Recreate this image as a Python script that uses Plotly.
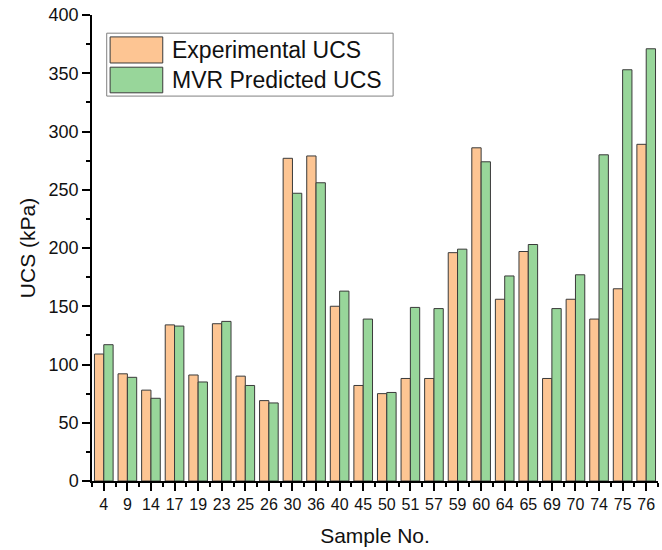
import plotly.graph_objects as go

samples = ["4", "9", "14", "17", "19", "23", "25", "26", "30", "36", "40", "45",
           "50", "51", "57", "59", "60", "64", "65", "69", "70", "74", "75", "76"]
experimental = [109, 92, 78, 134, 91, 135, 90, 69, 277, 279, 150, 82,
                75, 88, 88, 196, 286, 156, 197, 88, 156, 139, 165, 289]
predicted = [117, 89, 71, 133, 85, 137, 82, 67, 247, 256, 163, 139,
             76, 149, 148, 199, 274, 176, 203, 148, 177, 280, 353, 371]
series_names = ["Experimental UCS", "MVR Predicted UCS"]
series_colors = ["#FDC593", "#98D69A"]
y_ticks = [0, 50, 100, 150, 200, 250, 300, 350, 400]

FONT = "Arial, Liberation Sans, sans-serif"
positions = list(range(len(samples)))
xrange_ = [-0.5, len(samples) - 0.5]

fig = go.Figure()
for name, vals, col in zip(series_names, [experimental, predicted], series_colors):
    fig.add_trace(go.Bar(
        x=positions, y=vals, name=name, showlegend=False,
        marker=dict(color=col, line=dict(color="#3a3a3a", width=1)),
    ))

axis_common = dict(showline=True, linecolor="black", linewidth=1.5,
                   showgrid=False, zeroline=False, tickcolor="black", tickwidth=1.5)

fig.update_layout(
    width=662, height=550,
    margin=dict(l=92, r=4, t=15, b=69),
    paper_bgcolor="white", plot_bgcolor="white",
    barmode="group", bargap=0.21, bargroupgap=0,
    font=dict(family=FONT, color="black"),
    xaxis=dict(
        range=xrange_, tickmode="array", tickvals=positions, ticktext=samples,
        ticks="outside", ticklen=8,
        tickfont=dict(size=16, family=FONT, color="#111"),
        minor=dict(tickmode="linear", tick0=-0.5, dtick=1, ticks="outside",
                   ticklen=4, tickwidth=1.5, tickcolor="black"),
        title=dict(text="Sample No.", font=dict(size=21, family=FONT, color="#111"), standoff=16),
        **axis_common,
    ),
    xaxis2=dict(
        overlaying="x", side="top", anchor="y", range=xrange_,
        tickmode="array", tickvals=positions, showticklabels=False,
        ticks="inside", ticklen=8,
        minor=dict(tickmode="linear", tick0=-0.5, dtick=1, ticks="inside",
                   ticklen=4, tickwidth=1.5, tickcolor="black"),
        **axis_common,
    ),
    yaxis=dict(
        range=[0, 400], tickmode="array", tickvals=y_ticks,
        ticks="outside", ticklen=8,
        tickfont=dict(size=18, family=FONT, color="#111"),
        minor=dict(tickmode="linear", tick0=0, dtick=25, ticks="outside",
                   ticklen=4, tickwidth=1.5, tickcolor="black"),
        title=dict(text="UCS (kPa)", font=dict(size=21, family=FONT, color="#111"), standoff=7),
        **axis_common,
    ),
    yaxis2=dict(
        overlaying="y", side="right", anchor="x", range=[0, 400],
        tickmode="array", tickvals=y_ticks, showticklabels=False,
        ticks="outside", ticklen=8,
        **axis_common,
    ),
)

# Legend drawn as a boxed key (large swatches like the original)
fig.add_shape(type="rect", xref="paper", yref="paper",
              x0=0.026, x1=0.532, y0=0.826, y1=0.961,
              line=dict(color="#808080", width=1), fillcolor="white", layer="above")
legend_rows = [(0.953, 0.897), (0.888, 0.833)]
for (y1, y0), name, col in zip(legend_rows, series_names, series_colors):
    fig.add_shape(type="rect", xref="paper", yref="paper",
                  x0=0.032, x1=0.125, y0=y0, y1=y1,
                  line=dict(color="#3a3a3a", width=1), fillcolor=col, layer="above")
    fig.add_annotation(xref="paper", yref="paper", x=0.137, y=(y0 + y1) / 2,
                       text=name, showarrow=False, xanchor="left", yanchor="middle",
                       font=dict(size=23, family=FONT, color="#111"))

fig.write_html("out.html")
